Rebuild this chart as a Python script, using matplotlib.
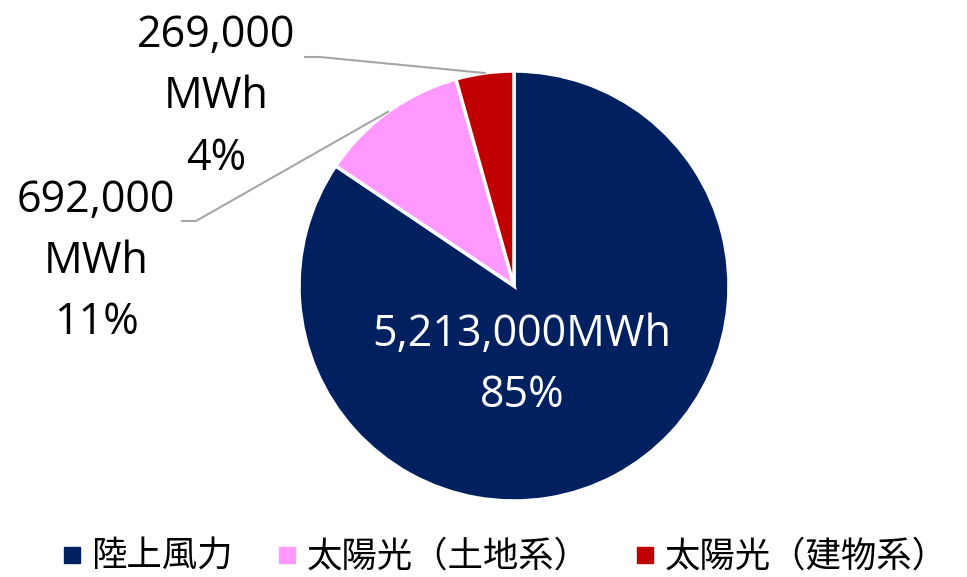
import matplotlib
matplotlib.use("Agg")
import matplotlib.pyplot as plt
import numpy as np
from matplotlib.lines import Line2D

plt.rcParams['font.family'] = ['Noto Sans CJK JP', 'DejaVu Sans']

categories = ['陸上風力', '太陽光（土地系）', '太陽光（建物系）']
values = [5213000, 692000, 269000]
value_labels = ['5,213,000MWh', '692,000\nMWh', '269,000\nMWh']
pct_labels = ['85%', '11%', '4%']
colors = ['#002060', '#FF99FF', '#C00000']

W, H = 967, 577
fig = plt.figure(figsize=(W / 100, H / 100), dpi=100)

cx, cy, R = 514, 286, 215
ax = fig.add_axes([(cx - R) / W, (H - cy - R) / H, 2 * R / W, 2 * R / H])
wedges, _ = ax.pie(values, colors=colors, startangle=90, counterclock=False,
                   radius=1, wedgeprops=dict(edgecolor='white', linewidth=2.5))
ax.set_xlim(-1, 1)
ax.set_ylim(-1, 1)
ax.set_aspect('equal')
ax.axis('off')

def px(x, y):
    return (x - cx) / R, (cy - y) / R

label_font = ['Open Sans', 'DejaVu Sans']
LS = 1.5
FS = 31

tx, ty = px(522, 365)
ax.text(tx, ty, value_labels[0] + '\n' + pct_labels[0], ha='center', va='center',
        color='white', fontsize=FS, linespacing=LS, family=label_font, clip_on=False)

outside = {1: dict(text=(96, 262), elbow=(196, 221), end=(182, 221)),
           2: dict(text=(216, 97), elbow=(320, 57), end=(305, 57))}
for i, cfg in outside.items():
    w = wedges[i]
    mid = np.deg2rad((w.theta1 + w.theta2) / 2)
    ex, ey = np.cos(mid), np.sin(mid)
    bx, by = px(*cfg['elbow'])
    qx, qy = px(*cfg['end'])
    ax.plot([ex, bx, qx], [ey, by, qy], color='#A6A6A6', lw=1.5, clip_on=False)
    lx, ly = px(*cfg['text'])
    ax.text(lx, ly, value_labels[i] + '\n' + pct_labels[i], ha='center', va='center',
            color='black', fontsize=FS, linespacing=LS, family=label_font, clip_on=False)

handles = [Line2D([], [], marker='s', linestyle='none', markersize=11,
                  markerfacecolor=c, markeredgecolor=c) for c in colors]
fig.legend(handles, categories, loc='center', bbox_to_anchor=(505 / W, 1 - 557 / H),
           ncol=3, frameon=False, fontsize=25.5, handletextpad=0.3,
           columnspacing=1.3, handlelength=0.5, borderpad=0, borderaxespad=0)

fig.savefig('out.png', dpi=100)
